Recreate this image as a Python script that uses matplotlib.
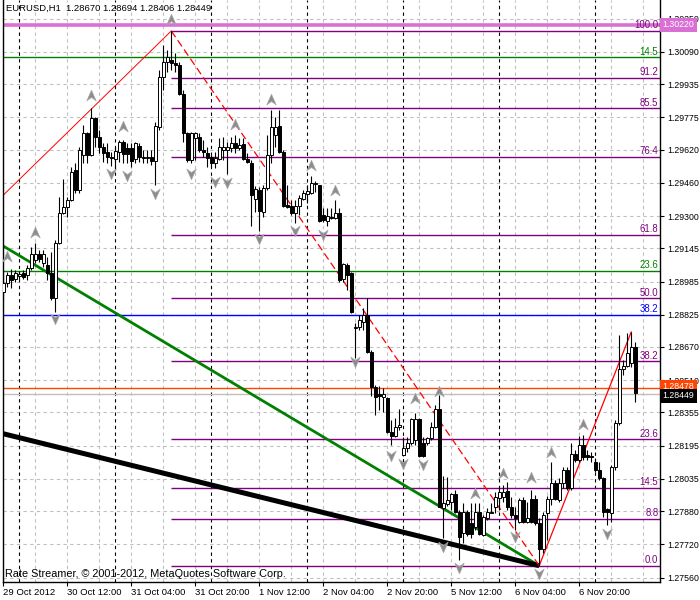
import numpy as np
import matplotlib.pyplot as plt
from matplotlib.path import Path

plt.rcParams['font.family'] = ['Liberation Sans', 'DejaVu Sans']

# EURUSD H1, bar 0 = 29 Oct 2012 20:00 (prices in points, 1e-5)
opens = np.array([
    128935, 128978, 129016, 128997, 129012, 129026, 129016, 129050, 129089, 129117,
    129074, 129065, 129026, 128906, 129170, 129315, 129344, 129377, 129522, 129426,
    129594, 129700, 129594, 129772, 129681, 129633, 129608, 129584, 129575, 129608,
    129657, 129628, 129628, 129575, 129637, 129584, 129580, 129584, 129565, 129729,
    129969, 130042, 130051, 130037, 130027, 129888, 129700, 129570, 129676, 129681,
    129618, 129604, 129584, 129555, 129575, 129618, 129618, 129628, 129652, 129628,
    129647, 129575, 129555, 129382, 129426, 129320, 129435, 129594, 129690, 129734,
    129608, 129353, 129349, 129315, 129349, 129382, 129406, 129411, 129454, 129450,
    129305, 129276, 129296, 129291, 129315, 128997, 129065, 129026, 128761, 128766,
    128790, 128824, 128646, 128477, 128444, 128429, 128424, 128261, 128242, 128285,
    128150, 128184, 128208, 128222, 128323, 128208, 128208, 128232, 128285, 128372,
    127895, 127914, 127924, 127962, 127876, 127775, 127876, 127823, 127804, 127876,
    127765, 127847, 127871, 127900, 127943, 127948, 127977, 127900, 127861, 127828,
    127934, 127828, 127938, 127938, 127823, 127698, 127871, 127938, 128015, 127934,
    128015, 128078, 127991, 128155, 128126, 128198, 128150, 128145, 128116, 128078,
    128039, 127890, 127871, 128092, 128304, 128564, 128578, 128593, 128670]) / 1e5
highs = np.array([
    129041, 129031, 129045, 129041, 129036, 129041, 129065, 129151, 129170, 129137,
    129137, 129103, 129127, 129185, 129392, 129478, 129392, 129536, 129555, 129633,
    129738, 129705, 129820, 129777, 129714, 129652, 129652, 129608, 129633, 129666,
    129666, 129652, 129652, 129657, 129652, 129618, 129618, 129618, 129753, 130003,
    130123, 130099, 130191, 130085, 130042, 129907, 129705, 129705, 129705, 129700,
    129666, 129633, 129594, 129608, 129676, 129681, 129657, 129681, 129690, 129676,
    129676, 129604, 129570, 129445, 129440, 129450, 129690, 129811, 129777, 129811,
    129618, 129450, 129377, 129377, 129401, 129426, 129450, 129493, 129469, 129450,
    129339, 129339, 129339, 129377, 129339, 129074, 129074, 129031, 128785, 128824,
    128858, 128906, 128655, 128487, 128482, 128473, 128429, 128319, 128328, 128372,
    128237, 128237, 128328, 128352, 128328, 128237, 128237, 128309, 128391, 128439,
    128049, 128044, 127967, 127982, 127885, 127919, 127885, 127919, 127919, 127919,
    127861, 127895, 127919, 127972, 127996, 128006, 128020, 127948, 127900, 127943,
    127948, 127924, 127982, 127958, 127847, 127876, 127953, 128116, 128030, 128039,
    128092, 128092, 128208, 128174, 128242, 128246, 128174, 128165, 128136, 128116,
    128044, 127895, 128102, 128319, 128728, 128607, 128737, 128742, 128694]) / 1e5
lows = np.array([
    128896, 128959, 128954, 128983, 128997, 128997, 128992, 129041, 129074, 129079,
    129055, 128992, 128896, 128838, 129166, 129310, 129296, 129373, 129411, 129411,
    129555, 129555, 129589, 129633, 129604, 129560, 129555, 129541, 129522, 129560,
    129555, 129555, 129536, 129555, 129560, 129555, 129555, 129546, 129450, 129714,
    129907, 129993, 130003, 129993, 129883, 129657, 129560, 129555, 129570, 129608,
    129584, 129536, 129536, 129531, 129570, 129570, 129503, 129608, 129604, 129618,
    129570, 129555, 129252, 129320, 129228, 129296, 129426, 129555, 129633, 129604,
    129344, 129339, 129305, 129267, 129305, 129377, 129363, 129406, 129416, 129272,
    129272, 129252, 129286, 129286, 128983, 128983, 128944, 128834, 128617, 128752,
    128752, 128641, 128434, 128343, 128367, 128357, 128256, 128198, 128237, 128270,
    128145, 128165, 128198, 128198, 128141, 128141, 128198, 128222, 128280, 127900,
    127751, 127905, 127885, 127871, 127645, 127727, 127760, 127751, 127789, 127765,
    127760, 127837, 127871, 127871, 127885, 127924, 127885, 127847, 127789, 127823,
    127823, 127823, 127823, 127813, 127616, 127678, 127741, 127909, 127934, 127924,
    127991, 127982, 127982, 128116, 128116, 128126, 128126, 128116, 128068, 128030,
    127852, 127813, 127828, 128078, 128295, 128535, 128574, 128574, 128406]) / 1e5
closes = np.array([
    128978, 129016, 128992, 129026, 129021, 129007, 129050, 129117, 129117, 129093,
    129117, 129026, 128906, 129170, 129315, 129344, 129377, 129512, 129426, 129618,
    129700, 129594, 129772, 129681, 129633, 129604, 129584, 129580, 129613, 129657,
    129599, 129599, 129565, 129652, 129584, 129580, 129584, 129565, 129734, 129969,
    130042, 130066, 130037, 130027, 129888, 129700, 129570, 129700, 129700, 129618,
    129608, 129580, 129555, 129580, 129633, 129633, 129633, 129652, 129628, 129642,
    129575, 129560, 129401, 129430, 129324, 129435, 129594, 129729, 129729, 129608,
    129349, 129344, 129315, 129349, 129387, 129411, 129421, 129459, 129459, 129276,
    129281, 129300, 129291, 129315, 128992, 129069, 129016, 128838, 128766, 128800,
    128824, 128646, 128477, 128429, 128434, 128444, 128261, 128242, 128285, 128295,
    128184, 128208, 128323, 128323, 128145, 128145, 128232, 128285, 128372, 127900,
    127919, 127934, 127962, 127876, 127755, 127876, 127770, 127770, 127876, 127770,
    127852, 127876, 127876, 127948, 127972, 127972, 127900, 127861, 127847, 127934,
    127828, 127847, 127828, 127823, 127698, 127861, 127938, 128015, 127938, 128015,
    128078, 127991, 128155, 128126, 128198, 128141, 128141, 128141, 128078, 128039,
    127876, 127876, 128092, 128304, 128564, 128578, 128641, 128670, 128449]) / 1e5

# fractals (bar, price)
up_bars = [1, 8, 22, 30, 42, 58, 67, 77, 83, 103, 109, 118, 125, 132, 137, 145]
up_prices = [1.29105, 1.29219, 1.29878, 1.29730, 1.30244, 1.29738, 1.29859, 1.29541,
             1.29422, 1.28418, 1.28455, 1.27962, 1.28059, 1.28038, 1.28161, 1.28295]
dn_bars = [13, 27, 31, 38, 47, 53, 56, 64, 73, 80, 88, 97, 100, 105, 110, 114, 128, 134, 151]
dn_prices = [1.28808, 1.29509, 1.29498, 1.29410, 1.29509, 1.29471, 1.29464, 1.29196,
             1.29233, 1.29214, 1.28603, 1.28150, 1.28110, 1.28105, 1.27712, 1.27612,
             1.27760, 1.27581, 1.27776]

# fibo retracement 1.30191 -> 1.27617
fib_labels = ['0.0', '8.8', '14.5', '23.6', '38.2', '50.0', '61.8', '76.4', '85.5', '91.2', '100.0']
fib_prices = [1.27617, 1.27844, 1.27990, 1.28225, 1.28600, 1.28904, 1.29208,
              1.29584, 1.29818, 1.29964, 1.30191]
# other full-width levels
lvl_labels = ['14.5', '23.6', '38.2']
lvl_prices = [1.30064, 1.29035, 1.28823]
lvl_colors = ['#008000', '#008000', '#0000FF']

yticks = [1.30250, 1.30090, 1.29935, 1.29775, 1.29620, 1.29460, 1.29300, 1.29145, 1.28985,
          1.28825, 1.28670, 1.28510, 1.28355, 1.28195, 1.28035, 1.27880, 1.27720, 1.27560]
xtick_bars = [0, 16, 32, 48, 64, 80, 96, 112, 128, 144]
xtick_labels = ['29 Oct 2012', '30 Oct 12:00', '31 Oct 04:00', '31 Oct 20:00', '1 Nov 12:00',
                '2 Nov 04:00', '2 Nov 20:00', '5 Nov 12:00', '6 Nov 04:00', '6 Nov 20:00']
day_bars = [4, 28, 52, 76, 100, 124, 148]

fig = plt.figure(figsize=(7, 6), dpi=100)
ax = fig.add_axes([2.5 / 700, 18.5 / 600, 657.5 / 700, 581.5 / 600])
ax.set_xlim(-0.2, 164.2)
ax.set_ylim(1.27541, 1.30340)

# grid
for b in range(0, 165, 8):
    ax.axvline(b, color='#C0C0C0', lw=0.8, ls=(0, (3, 3)), zorder=0)
for p in yticks:
    ax.axhline(p, color='#C0C0C0', lw=0.8, ls=(0, (3, 3)), zorder=0)
for b in day_bars:
    ax.axvline(b, color='black', lw=0.8, ls=(0, (3, 3)), zorder=0.5)

# horizontal lines
ax.axhline(1.30220, color='#DA70D6', lw=2.6, zorder=1)
ax.axhline(1.28472, color='#FF4500', lw=1.0, zorder=1)
ax.axhline(1.28443, color='#C0C0C0', lw=1.0, zorder=1)
for lab, p, c in zip(lvl_labels, lvl_prices, lvl_colors):
    ax.axhline(p, color=c, lw=1.0, zorder=1)
    ax.text(163.8, p + 0.00004, lab, color=c, fontsize=6.9, ha='right', va='bottom', zorder=2)
for lab, p in zip(fib_labels, fib_prices):
    ax.hlines(p, 42, 164.2, color='#800080', lw=1.0, zorder=1)
    ax.text(163.8, p + 0.00004, lab, color='#800080', fontsize=6.9, ha='right', va='bottom', zorder=2)

# trend lines
ax.plot([-1, 134], [1.29167, 1.27617], color='#008000', lw=2.0, zorder=2,
        solid_capstyle='butt')
ax.plot([-1, 134], [1.28257, 1.27617], color='black', lw=3.6, zorder=2,
        solid_capstyle='butt')
ax.plot([-1, 42], [1.29382, 1.30191], color='red', lw=0.7, zorder=2)
ax.plot([42, 134], [1.30191, 1.27617], color='red', lw=0.9, ls=(0, (6, 3)), zorder=2)
ax.plot([134, 157], [1.27617, 1.28742], color='red', lw=0.9, zorder=2)

# candles
x = np.arange(len(opens))
ax.vlines(x, lows, highs, color='black', lw=0.8, zorder=3)
bull = closes >= opens
body_lo = np.minimum(opens, closes)
body_h = np.abs(closes - opens)
ax.bar(x, body_h, bottom=body_lo, width=0.72,
       color=np.where(bull, 'white', 'black'), edgecolor='black', linewidth=0.7, zorder=4)

# fractal arrows
up_m = Path([(0, 1), (0.75, -0.7), (0, -0.15), (-0.75, -0.7), (0, 1)],
            [Path.MOVETO, Path.LINETO, Path.LINETO, Path.LINETO, Path.CLOSEPOLY])
dn_m = Path([(0, -1), (0.75, 0.7), (0, 0.15), (-0.75, 0.7), (0, -1)],
            [Path.MOVETO, Path.LINETO, Path.LINETO, Path.LINETO, Path.CLOSEPOLY])
ax.plot(up_bars, up_prices, ls='none', marker=up_m, ms=9, color='#8C8C8C',
        markeredgecolor='#A8A8A8', markeredgewidth=0.5, zorder=5)
ax.plot(dn_bars, dn_prices, ls='none', marker=dn_m, ms=9, color='#8C8C8C',
        markeredgecolor='#A8A8A8', markeredgewidth=0.5, zorder=5)

# axes styling
ax.spines['top'].set_visible(False)
for s in ['left', 'right', 'bottom']:
    ax.spines[s].set_color('black')
    ax.spines[s].set_linewidth(1.0)
ax.yaxis.tick_right()
ax.set_yticks(yticks)
ax.set_yticklabels(['%.5f' % v for v in yticks])
ax.set_xticks(xtick_bars)
ax.set_xticklabels(xtick_labels, ha='left')
ax.tick_params(axis='x', labelsize=6.8, length=3, width=0.8, direction='out', pad=2)
ax.tick_params(axis='y', labelsize=6.3, length=3, width=0.8, direction='out', pad=2)

# price tags on the axis
ytr = ax.get_yaxis_transform()
ax.text(1.004, 1.30220, '1.30220', transform=ytr, fontsize=6.3, color='white',
        va='center', ha='left', clip_on=False, zorder=10,
        bbox=dict(boxstyle='square,pad=0.3', fc='#DA70D6', ec='none'))
ax.text(1.004, 1.28478, '1.28478', transform=ytr, fontsize=6.3, color='white',
        va='center', ha='left', clip_on=False, zorder=10,
        bbox=dict(boxstyle='square,pad=0.3', fc='#FF4500', ec='none'))
ax.text(1.004, 1.28435, '1.28449', transform=ytr, fontsize=6.3, color='white',
        va='center', ha='left', clip_on=False, zorder=11,
        bbox=dict(boxstyle='square,pad=0.3', fc='black', ec='none'))

ax.text(0.005, 0.993, 'EURUSD,H1  1.28670 1.28694 1.28406 1.28449', transform=ax.transAxes,
        fontsize=6.8, ha='left', va='top', zorder=10)
ax.text(0.004, 0.004, 'Rate Streamer, \u00a9 2001-2012, MetaQuotes Software Corp.',
        transform=ax.transAxes, fontsize=7.8, ha='left', va='bottom', zorder=10)

fig.savefig('out.png', dpi=100)
